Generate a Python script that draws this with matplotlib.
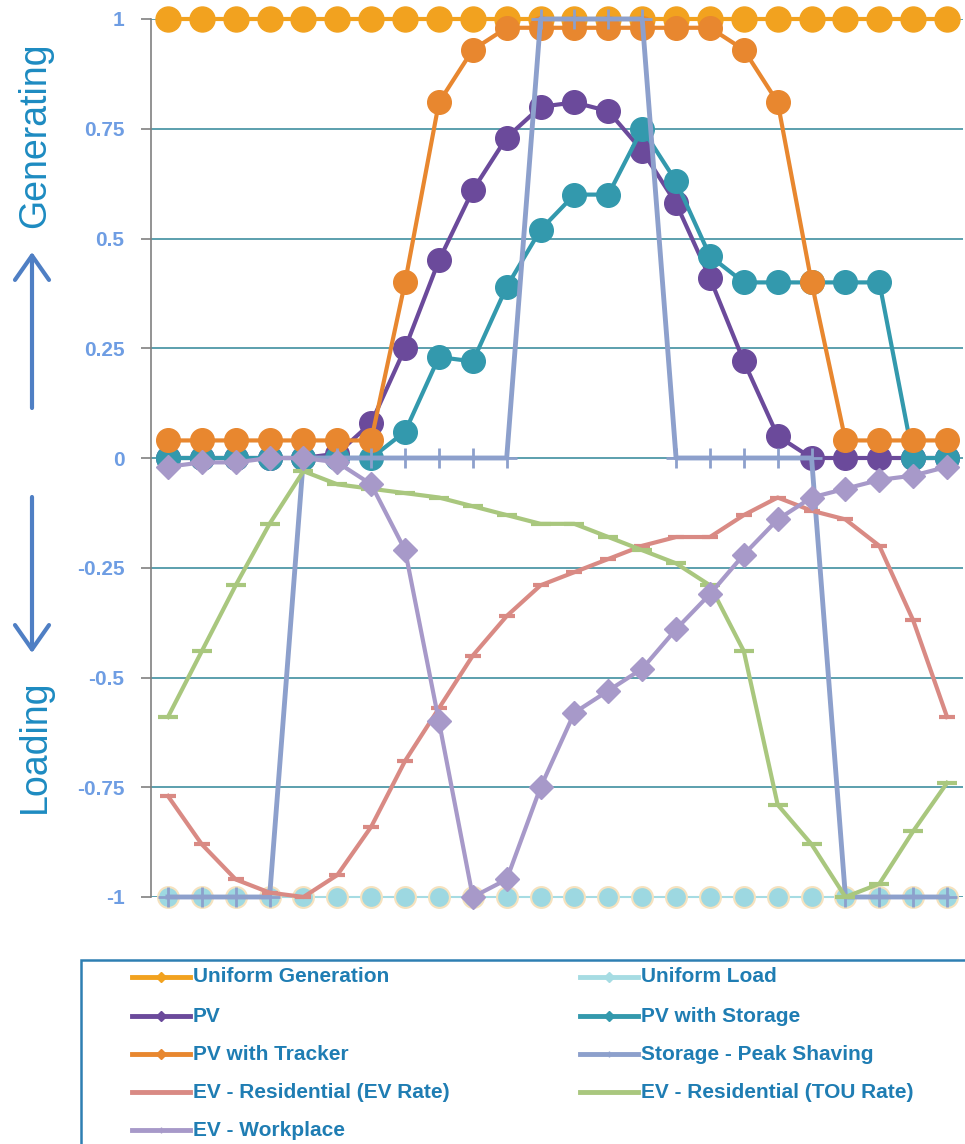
import numpy as np
import matplotlib
matplotlib.use('Agg')
import matplotlib.pyplot as plt
from matplotlib.lines import Line2D
from matplotlib.patches import Rectangle

# hourly profiles (0..23 h)
hours = list(range(24))
uniform_gen = [1.0] * 24
uniform_load = [-1.0] * 24
pv = [0, 0, 0, 0, 0, 0.01, 0.08, 0.25, 0.45, 0.61, 0.73, 0.80,
      0.81, 0.79, 0.70, 0.58, 0.41, 0.22, 0.05, 0, 0, 0, 0, 0]
pv_storage = [0, 0, 0, 0, 0, 0, 0, 0.06, 0.23, 0.22, 0.39, 0.52,
              0.60, 0.60, 0.75, 0.63, 0.46, 0.40, 0.40, 0.40, 0.40, 0.40, 0, 0]
pv_tracker = [0.04, 0.04, 0.04, 0.04, 0.04, 0.04, 0.04, 0.40, 0.81, 0.93, 0.98, 0.98,
              0.98, 0.98, 0.98, 0.98, 0.98, 0.93, 0.81, 0.40, 0.04, 0.04, 0.04, 0.04]
storage = [-1, -1, -1, -1, 0, 0, 0, 0, 0, 0, 0, 1,
           1, 1, 1, 0, 0, 0, 0, 0, -1, -1, -1, -1]
ev_res_ev = [-0.77, -0.88, -0.96, -0.99, -1.0, -0.95, -0.84, -0.69, -0.57, -0.45, -0.36, -0.29,
             -0.26, -0.23, -0.20, -0.18, -0.18, -0.13, -0.09, -0.12, -0.14, -0.20, -0.37, -0.59]
ev_res_tou = [-0.59, -0.44, -0.29, -0.15, -0.03, -0.06, -0.07, -0.08, -0.09, -0.11, -0.13, -0.15,
              -0.15, -0.18, -0.21, -0.24, -0.29, -0.44, -0.79, -0.88, -1.0, -0.97, -0.85, -0.74]
ev_work = [-0.02, -0.01, -0.01, 0, 0, -0.01, -0.06, -0.21, -0.60, -1.0, -0.96, -0.75,
           -0.58, -0.53, -0.48, -0.39, -0.31, -0.22, -0.14, -0.09, -0.07, -0.05, -0.04, -0.02]

yticks = [1, 0.75, 0.5, 0.25, 0, -0.25, -0.5, -0.75, -1]
ytick_labels = ['1', '0.75', '0.5', '0.25', '0', '-0.25', '-0.5', '-0.75', '-1']

W, H = 965, 1144
fig = plt.figure(figsize=(W / 100, H / 100), dpi=100)
ax = fig.add_axes([151 / W, (H - 897) / H, (963 - 151) / W, (897 - 19) / H])

# series in Excel order so later ones sit on top
styles = [
    ('Uniform Generation', uniform_gen, dict(color='#F2A21F', lw=3, marker='o', ms=18)),
    ('Uniform Load', uniform_load, dict(color='#A6DCE3', lw=1.5, marker='o', ms=15,
                                        mfc='#9DD8E1', mec='#F5E2BE', mew=1.5)),
    ('PV', pv, dict(color='#6B4A9B', lw=3, marker='o', ms=17)),
    ('PV with Storage', pv_storage, dict(color='#3399AD', lw=3, marker='o', ms=17)),
    ('PV with Tracker', pv_tracker, dict(color='#E8872F', lw=3, marker='o', ms=17)),
    ('Storage - Peak Shaving', storage, dict(color='#8DA0CC', lw=3.5, marker='+', ms=14, mew=2)),
    ('EV - Residential (EV Rate)', ev_res_ev, dict(color='#D98A84', lw=3, marker='_', ms=12, mew=3)),
    ('EV - Residential (TOU Rate)', ev_res_tou, dict(color='#A9C77E', lw=3, marker='_', ms=15, mew=3)),
    ('EV - Workplace', ev_work, dict(color='#A799C9', lw=3, marker='D', ms=12)),
]
for name, vals, kw in styles:
    ax.plot(hours, vals, clip_on=False, zorder=3, **kw)

ax.set_xlim(-0.5, 23.47)
ax.set_ylim(-1, 1)
ax.set_xticks([])
ax.set_yticks(yticks)
ax.set_yticklabels(ytick_labels, fontsize=15, fontweight='bold', family='Liberation Sans')
ax.yaxis.grid(True, color='#3F8FA0', lw=1.2)
ax.set_axisbelow(True)
for s in ['top', 'right', 'bottom']:
    ax.spines[s].set_visible(False)
ax.spines['left'].set_color('#808080')
ax.spines['left'].set_linewidth(1.2)
ax.tick_params(axis='y', length=7, width=1.2, color='#808080', labelcolor='#6E9DE3', pad=12)

# side labels with arrows
fig.text(35 / W, 1 - 135 / H, 'Generating', rotation=90, ha='center', va='center',
         fontsize=27, color='#1D8BC1', family='Liberation Sans')
fig.text(35 / W, 1 - 746 / H, 'Loading', rotation=90, ha='center', va='center',
         fontsize=27, color='#1D8BC1', family='Liberation Sans')
arrow = dict(arrowstyle='->,head_length=0.5,head_width=0.35', color='#4F7FC4', lw=3,
             mutation_scale=35, shrinkA=0, shrinkB=0)
ax.annotate('', xy=(32, H - 252), xytext=(32, H - 408), xycoords='figure pixels',
            textcoords='figure pixels', arrowprops=arrow)
ax.annotate('', xy=(32, H - 653), xytext=(32, H - 497), xycoords='figure pixels',
            textcoords='figure pixels', arrowprops=arrow)

# legend box, drawn by hand so it runs off the bottom/right edge like the original
fig.add_artist(Rectangle((81 / W, -0.1), 1.0, (H - 960) / H + 0.1, transform=fig.transFigure,
                         fill=False, ec='#2E7FB2', lw=1.8))
leg_markers = {'o': 'D', '+': '|', '_': None, 'D': '|'}
rows = [977, 1016, 1054, 1092, 1130]
for i, (name, vals, kw) in enumerate(styles):
    col, row = i % 2, i // 2
    x0 = 132 if col == 0 else 580
    y = (H - rows[row]) / H
    xs = [x0 / W, (x0 + 29) / W, (x0 + 58) / W]
    mk = leg_markers[kw['marker']]
    fig.add_artist(Line2D(xs, [y] * 3, color=kw['color'], lw=3.5, marker=mk, ms=5,
                          markevery=[1], transform=fig.transFigure))
    fig.text((x0 + 61) / W, y, name, ha='left', va='center', fontsize=15,
             fontweight='bold', color='#1F7DB3', family='Liberation Sans')

plt.savefig('out.png', dpi=100)
